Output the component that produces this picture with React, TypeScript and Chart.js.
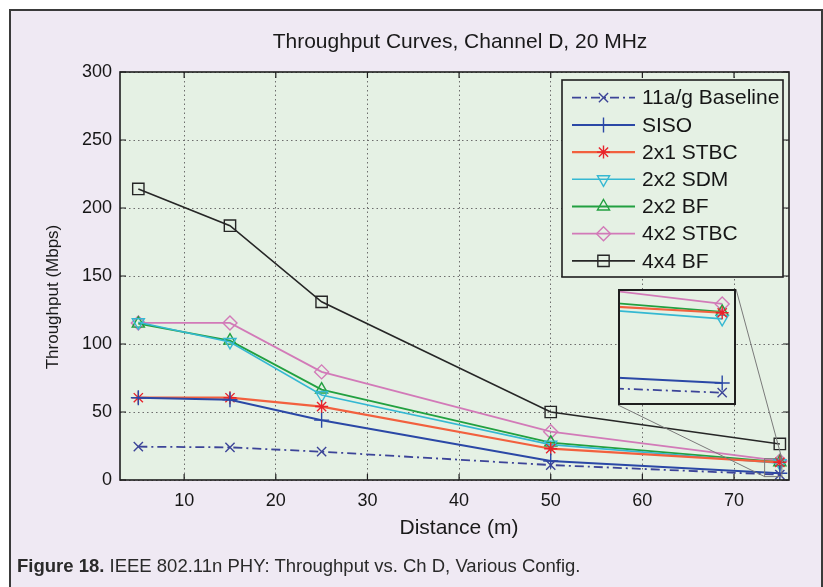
import React, { useEffect, useRef } from 'react';
import { Chart, registerables } from 'chart.js';
import { drawPoint } from 'chart.js/helpers';

Chart.register(...registerables);

// ---------- data ----------
const distance = [5, 15, 25, 50, 75];
const seriesNames = ['11a/g Baseline', 'SISO', '2x1 STBC', '2x2 SDM', '2x2 BF', '4x2 STBC', '4x4 BF'];
const baseline = [24.5, 24, 20.8, 11, 3.9];
const siso = [60.5, 59, 44, 14, 5];
const stbc2x1 = [60.5, 60.5, 54, 23, 13];
const sdm2x2 = [116, 101.5, 62.5, 26, 12.3];
const bf2x2 = [115, 102.5, 66.5, 27.5, 13.1];
const stbc4x2 = [115.5, 115.5, 79.5, 35.5, 14];
const bf4x4 = [214, 187, 131, 50, 26.5];
const seriesValues = [baseline, siso, stbc2x1, sdm2x2, bf2x2, stbc4x2, bf4x4];

const xTicks = [10, 20, 30, 40, 50, 60, 70];
const yTicks = [0, 50, 100, 150, 200, 250, 300];
const xRange = [3, 76];
const yRange = [0, 300];
// zoomed region shown in the inset
const zoomX = [73.34, 75.22];
const zoomY = [2.5, 15.7];

const chartTitle = 'Throughput Curves, Channel D, 20 MHz';
const xTitle = 'Distance (m)';
const yTitle = 'Throughput (Mbps)';
const captionBold = 'Figure 18.';
const captionText = ' IEEE 802.11n PHY: Throughput vs. Ch D, Various Config.';

// ---------- styles ----------
const FONT = '"Liberation Sans", Arial, Helvetica, sans-serif';
const PLOT_BG = '#e5f1e4';
const PAGE_BG = '#efe9f3';
const styles = [
  { color: '#3c4498', point: 'crossRot', rot: 0, radius: 6.5, dash: [9, 4, 2, 4], width: 1.8 },
  { color: '#2b48a6', point: 'cross', rot: 0, radius: 7.5, dash: [], width: 2 },
  { color: '#f2603e', point: 'star', rot: 0, radius: 6.5, dash: [], width: 2.2, pointColor: '#e8232b' },
  { color: '#35b8d2', point: 'triangle', rot: 180, radius: 7, dash: [], width: 1.6 },
  { color: '#22a040', point: 'triangle', rot: 0, radius: 7, dash: [], width: 1.8 },
  { color: '#d27ab8', point: 'rectRot', rot: 0, radius: 7, dash: [], width: 1.8 },
  { color: '#262626', point: 'rect', rot: 0, radius: 8, dash: [], width: 1.6 },
];

const INSET = { left: 618, top: 289, width: 118, height: 116 };

function makeDatasets() {
  return seriesValues.map((vals, i) => {
    const s = styles[i];
    return {
      label: seriesNames[i],
      data: distance.map((x, j) => ({ x, y: vals[j] })),
      borderColor: s.color,
      borderWidth: s.width,
      borderDash: s.dash,
      backgroundColor: 'rgba(0,0,0,0)',
      pointStyle: s.point,
      pointRotation: s.rot,
      pointRadius: s.radius,
      pointBorderColor: s.pointColor || s.color,
      pointBackgroundColor: 'rgba(0,0,0,0)',
      pointBorderWidth: 1.4,
      tension: 0,
      fill: false,
    };
  });
}

const plotBgPlugin = {
  id: 'plotBg',
  beforeDraw(chart: any) {
    const { ctx, chartArea: a } = chart;
    ctx.save();
    ctx.fillStyle = PLOT_BG;
    ctx.fillRect(a.left, a.top, a.right - a.left, a.bottom - a.top);
    ctx.restore();
  },
};

const frameTicksPlugin = {
  id: 'frameTicks',
  afterDatasetsDraw(chart: any) {
    const { ctx, chartArea: a, scales } = chart;
    ctx.save();
    ctx.strokeStyle = '#1e1e1e';
    ctx.lineWidth = 1.2;
    const len = 6;
    xTicks.forEach((v) => {
      const px = scales.x.getPixelForValue(v);
      ctx.beginPath();
      ctx.moveTo(px, a.bottom);
      ctx.lineTo(px, a.bottom - len);
      ctx.moveTo(px, a.top);
      ctx.lineTo(px, a.top + len);
      ctx.stroke();
    });
    yTicks.forEach((v) => {
      const py = scales.y.getPixelForValue(v);
      ctx.beginPath();
      ctx.moveTo(a.left, py);
      ctx.lineTo(a.left + len, py);
      ctx.moveTo(a.right, py);
      ctx.lineTo(a.right - len, py);
      ctx.stroke();
    });
    ctx.lineWidth = 1.6;
    ctx.strokeRect(a.left, a.top, a.right - a.left, a.bottom - a.top);

    // zoom rectangle and connector lines to the inset
    const x0 = scales.x.getPixelForValue(zoomX[0]);
    const x1 = scales.x.getPixelForValue(zoomX[1]);
    const y0 = scales.y.getPixelForValue(zoomY[0]);
    const y1 = scales.y.getPixelForValue(zoomY[1]);
    ctx.strokeStyle = '#7a7a7a';
    ctx.lineWidth = 1;
    ctx.strokeRect(x0, y1, x1 - x0, y0 - y1);
    ctx.beginPath();
    ctx.moveTo(INSET.left, INSET.top + INSET.height);
    ctx.lineTo(x0, y0);
    ctx.moveTo(INSET.left + INSET.width, INSET.top);
    ctx.lineTo(x1, y1);
    ctx.stroke();

    // legend
    const lw = 221, lh = 197;
    const lx = a.right - 6 - lw;
    const ly = a.top + 8;
    ctx.fillStyle = PLOT_BG;
    ctx.fillRect(lx, ly, lw, lh);
    ctx.strokeStyle = '#1e1e1e';
    ctx.lineWidth = 1.6;
    ctx.strokeRect(lx, ly, lw, lh);
    chart.data.datasets.forEach((ds: any, i: number) => {
      const ry = ly + 17.7 + i * 27.2;
      ctx.save();
      ctx.strokeStyle = ds.borderColor;
      ctx.lineWidth = ds.borderWidth;
      ctx.setLineDash(ds.borderDash || []);
      ctx.beginPath();
      ctx.moveTo(lx + 10, ry);
      ctx.lineTo(lx + 73, ry);
      ctx.stroke();
      ctx.setLineDash([]);
      ctx.strokeStyle = ds.pointBorderColor;
      ctx.fillStyle = 'rgba(0,0,0,0)';
      ctx.lineWidth = ds.pointBorderWidth;
      drawPoint(ctx, { pointStyle: ds.pointStyle, rotation: ds.pointRotation, radius: ds.pointRadius, borderWidth: ds.pointBorderWidth }, lx + 41.5, ry);
      ctx.restore();
      ctx.fillStyle = '#161616';
      ctx.font = `21px ${FONT}`;
      ctx.textBaseline = 'middle';
      ctx.textAlign = 'left';
      ctx.fillText(ds.label, lx + 80, ry + 1);
    });
    ctx.restore();
  },
};

const insetFramePlugin = {
  id: 'insetFrame',
  afterDatasetsDraw(chart: any) {
    const { ctx, chartArea: a } = chart;
    ctx.save();
    ctx.strokeStyle = '#1e1e1e';
    ctx.lineWidth = 2;
    ctx.strokeRect(a.left + 1, a.top + 1, a.right - a.left - 2, a.bottom - a.top - 2);
    ctx.restore();
  },
};

export default function App() {
  const mainRef = useRef<HTMLCanvasElement>(null);
  const insetRef = useRef<HTMLCanvasElement>(null);

  useEffect(() => {
    const tickFont = { family: FONT, size: 18 };
    const main = new Chart(mainRef.current as HTMLCanvasElement, {
      type: 'line',
      data: { datasets: makeDatasets() as any },
      options: {
        animation: false,
        responsive: false,
        maintainAspectRatio: false,
        layout: { padding: { top: 72, right: 34, bottom: 0, left: 0 } },
        plugins: { legend: { display: false }, title: { display: false }, tooltip: { enabled: false } },
        scales: {
          x: {
            type: 'linear',
            min: xRange[0],
            max: xRange[1],
            afterBuildTicks: (s: any) => { s.ticks = xTicks.map((v) => ({ value: v })); },
            afterFit: (s: any) => { s.height = 107; },
            grid: { color: '#6d6d6d', lineWidth: 1, drawTicks: false },
            border: { display: false, dash: [1.5, 3] },
            ticks: { padding: 10, font: tickFont, color: '#161616', maxRotation: 0, autoSkip: false },
          },
          y: {
            type: 'linear',
            min: yRange[0],
            max: yRange[1],
            afterBuildTicks: (s: any) => { s.ticks = yTicks.map((v) => ({ value: v })); },
            afterFit: (s: any) => { s.width = 120; },
            grid: { color: '#6d6d6d', lineWidth: 1, drawTicks: false },
            border: { display: false, dash: [1.5, 3] },
            ticks: { padding: 8, font: tickFont, color: '#161616', autoSkip: false },
          },
        },
      } as any,
      plugins: [plotBgPlugin, frameTicksPlugin],
    });

    const inset = new Chart(insetRef.current as HTMLCanvasElement, {
      type: 'line',
      data: { datasets: makeDatasets() as any },
      options: {
        animation: false,
        responsive: false,
        maintainAspectRatio: false,
        layout: { padding: 0, autoPadding: false },
        plugins: { legend: { display: false }, title: { display: false }, tooltip: { enabled: false } },
        scales: {
          x: { type: 'linear', min: zoomX[0], max: zoomX[1], display: false },
          y: { type: 'linear', min: zoomY[0], max: zoomY[1], display: false },
        },
      } as any,
      plugins: [plotBgPlugin, insetFramePlugin],
    });

    return () => {
      main.destroy();
      inset.destroy();
    };
  }, []);

  return (
    <div style={{ position: 'absolute', left: 0, top: 0, width: 823, height: 587, background: '#ffffff', overflow: 'hidden', fontFamily: FONT }}>
      <div style={{ position: 'absolute', left: 9, top: 9, width: 814, height: 640, boxSizing: 'border-box', border: '2px solid #3a3a3a', background: PAGE_BG }} />
      <canvas ref={mainRef} width={823} height={587} style={{ position: 'absolute', left: 0, top: 0, width: 823, height: 587 }} />
      <canvas ref={insetRef} width={INSET.width} height={INSET.height} style={{ position: 'absolute', left: INSET.left, top: INSET.top, width: INSET.width, height: INSET.height }} />
      <div style={{ position: 'absolute', left: 260, width: 400, top: 29, textAlign: 'center', fontSize: 21, lineHeight: '24px', color: '#1a1a1a', whiteSpace: 'nowrap' }}>{chartTitle}</div>
      <div style={{ position: 'absolute', left: 359, width: 200, top: 515, textAlign: 'center', fontSize: 21, lineHeight: '24px', color: '#1a1a1a', whiteSpace: 'nowrap' }}>{xTitle}</div>
      <div style={{ position: 'absolute', left: 53 - 100, width: 200, top: 297 - 12, textAlign: 'center', fontSize: 17, lineHeight: '24px', color: '#1a1a1a', whiteSpace: 'nowrap', transform: 'rotate(-90deg)' }}>{yTitle}</div>
      <div style={{ position: 'absolute', left: 17, top: 554, fontSize: 18.5, lineHeight: '24px', color: '#2a2a2a', whiteSpace: 'nowrap' }}>
        <b>{captionBold}</b>{captionText}
      </div>
    </div>
  );
}
